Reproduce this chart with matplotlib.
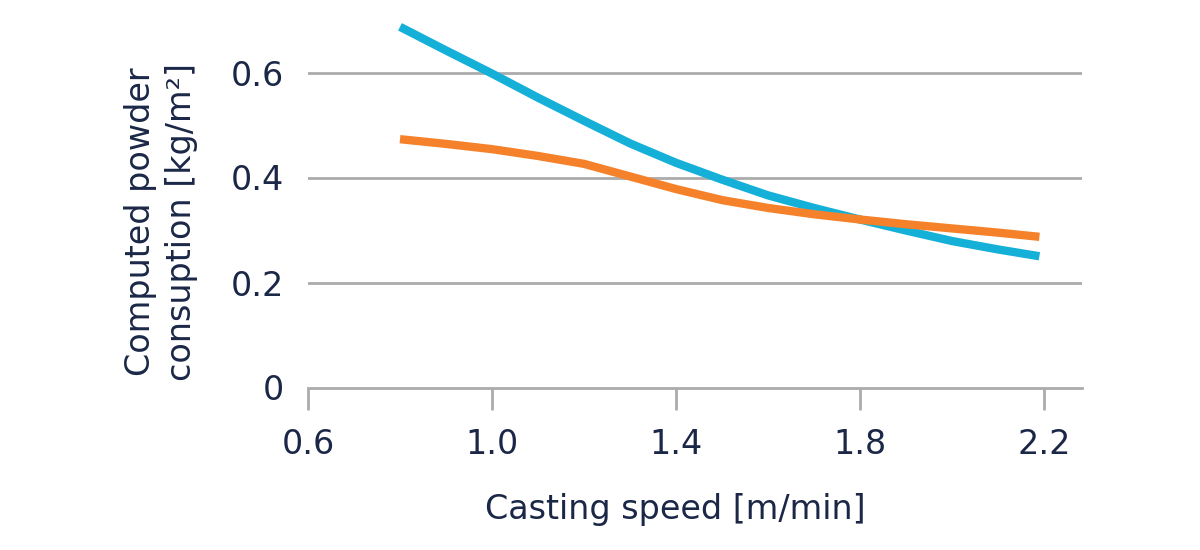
import matplotlib
matplotlib.use("Agg")
import matplotlib.pyplot as plt

plt.rcParams['font.family'] = ['DejaVu Sans']

speed = [0.8, 0.9, 1.0, 1.1, 1.2, 1.3, 1.4, 1.5, 1.6, 1.7, 1.8, 1.9, 2.0, 2.1, 2.19]
blue_vals = [0.687, 0.642, 0.598, 0.552, 0.508, 0.465, 0.428, 0.396, 0.366, 0.342,
             0.320, 0.299, 0.279, 0.263, 0.250]
orange_vals = [0.473, 0.464, 0.454, 0.441, 0.426, 0.402, 0.378, 0.357, 0.342, 0.330,
               0.320, 0.311, 0.303, 0.295, 0.287]
x_ticks = [0.6, 1.0, 1.4, 1.8, 2.2]
x_tick_labels = ["0.6", "1.0", "1.4", "1.8", "2.2"]
y_ticks = [0, 0.2, 0.4, 0.6]
y_tick_labels = ["0", "0.2", "0.4", "0.6"]

text_color = "#1b2747"
grid_color = "#ababab"

fig = plt.figure(figsize=(12, 5.5), dpi=100)
ax = fig.add_axes([308/1200, 162.5/550, 774/1200, 378/550])

ax.plot(speed, blue_vals, color="#15b0d8", lw=6, solid_capstyle="butt", solid_joinstyle="round", zorder=3)
ax.plot(speed, orange_vals, color="#f5822a", lw=6, solid_capstyle="butt", solid_joinstyle="round", zorder=4)

ax.set_xlim(0.6, 0.6 + 774/460)
ax.set_ylim(0, 0.72)

for y in y_ticks[1:]:
    ax.axhline(y, color=grid_color, lw=2, zorder=1)

for s in ["top", "right", "left"]:
    ax.spines[s].set_visible(False)
ax.spines["bottom"].set_color(grid_color)
ax.spines["bottom"].set_linewidth(2)

ax.set_xticks(x_ticks)
ax.set_xticklabels(x_tick_labels)
ax.set_yticks(y_ticks)
ax.set_yticklabels(y_tick_labels)
ax.tick_params(axis="x", direction="out", length=16, width=2, color=grid_color,
               labelsize=24, labelcolor=text_color, pad=13)
ax.tick_params(axis="y", length=0, labelsize=24, labelcolor=text_color, pad=17)

fig.text(161/1200, 1 - 222/550, "Computed powder\nconsuption [kg/m²]", rotation=90,
         ha="center", va="center", fontsize=24, color=text_color, linespacing=1.3,
         multialignment="center")
fig.text(675/1200, 1 - 510/550, "Casting speed [m/min]", ha="center", va="center",
         fontsize=24, color=text_color)

fig.savefig("out.png", dpi=100)
